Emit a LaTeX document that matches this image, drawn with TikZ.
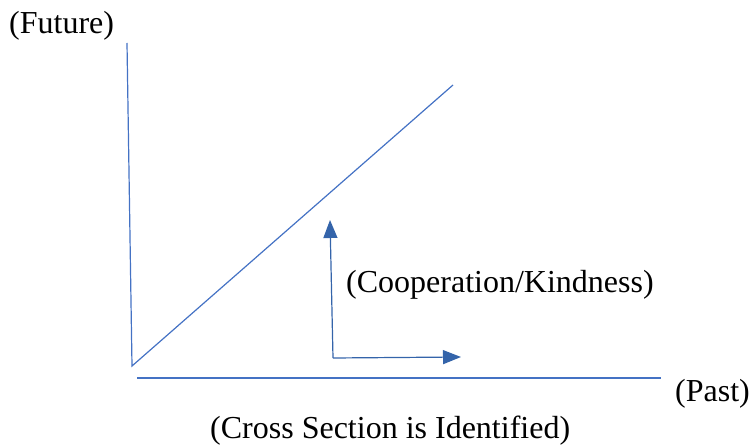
\documentclass[tikz,border=0pt]{standalone}
\usepackage{fontspec}
\setmainfont{Liberation Serif}
\usetikzlibrary{arrows.meta}
\definecolor{lineblue}{RGB}{68,114,196}
\definecolor{arrowblue}{RGB}{52,100,170}
\begin{document}
\begin{tikzpicture}[x=1pt,y=-1pt,
  axis/.style={draw=lineblue,line width=1.2pt},
  vec/.style={draw=arrowblue,line width=1.2pt,-{Triangle[length=18pt,width=14pt]}},
  lbl/.style={font=\fontsize{32}{36}\selectfont,inner sep=0pt,text=black}]
\useasboundingbox (0,0) rectangle (755,446);
\coordinate (vtop) at (127,43);
\coordinate (origin) at (132,366);
\coordinate (dtop) at (453,85);
\coordinate (hleft) at (137,378);
\coordinate (hright) at (661,378);
\coordinate (corner) at (333,358);
\coordinate (uptip) at (330,220);
\coordinate (righttip) at (461,357);
\draw[axis] (vtop) -- (origin) -- (dtop);
\draw[axis] (hleft) -- (hright);
\draw[vec] (corner) -- (uptip);
\draw[vec] (corner) -- (righttip);
\node[lbl,anchor=base west] (future) at (9,34) {(Future)};
\node[lbl,anchor=base west] (coop) at (346,293) {(Cooperation/Kindness)};
\node[lbl,anchor=base west] (past) at (675,401) {(Past)};
\node[lbl,anchor=base west] (cross) at (210,438) {(Cross Section is Identified)};
\end{tikzpicture}
\end{document}
